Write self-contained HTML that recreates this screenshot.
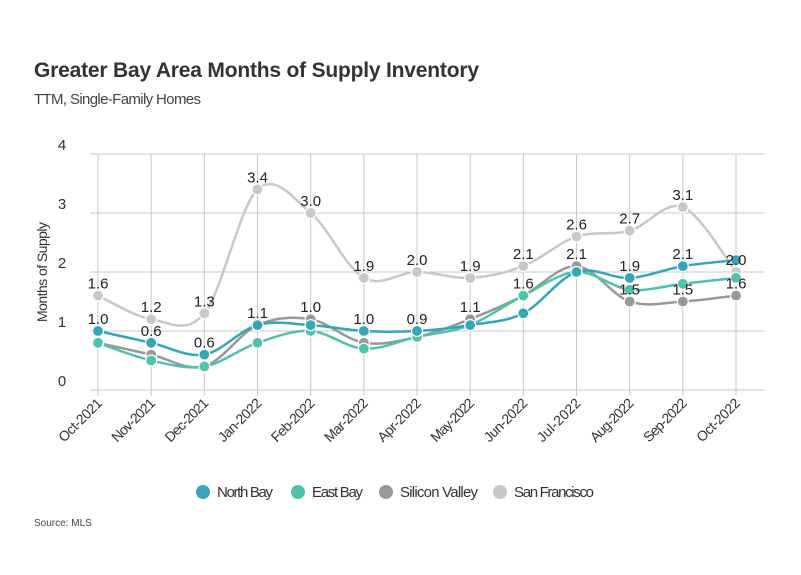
<!DOCTYPE html>
<html><head><meta charset="utf-8"><style>
body{margin:0;background:#fff;font-family:"Liberation Sans",sans-serif;}
#wrap{position:relative;width:801px;height:575px;overflow:hidden;}
</style></head><body>
<div id="wrap">
<svg id="svg" width="801" height="575" xmlns="http://www.w3.org/2000/svg">
<text x="34" y="77" font-size="21" font-weight="bold" fill="#333" textLength="445">Greater Bay Area Months of Supply Inventory</text>
<text x="34" y="104" font-size="15" fill="#444" textLength="167">TTM, Single-Family Homes</text>
<text x="34" y="526" font-size="10" fill="#444">Source:  MLS</text>
<text transform="translate(47,272) rotate(-90)" text-anchor="middle" font-size="14" fill="#333" textLength="100">Months of Supply</text>
<g id="grid"></g><g id="series"></g><g id="labels"></g><g id="legend"></g>
</svg>
</div>
<script>
const categories=["Oct-2021","Nov-2021","Dec-2021","Jan-2022","Feb-2022","Mar-2022","Apr-2022","May-2022","Jun-2022","Jul-2022","Aug-2022","Sep-2022","Oct-2022"];
const yTicks=[0,1,2,3,4];
const northBay=[1.0,0.8,0.6,1.1,1.1,1.0,1.0,1.1,1.3,2.0,1.9,2.1,2.2];
const eastBay=[0.8,0.5,0.4,0.8,1.0,0.7,0.9,1.1,1.6,2.0,1.7,1.8,1.9];
const siliconValley=[0.8,0.6,0.4,1.1,1.2,0.8,0.9,1.2,1.6,2.1,1.5,1.5,1.6];
const sanFrancisco=[1.6,1.2,1.3,3.4,3.0,1.9,2.0,1.9,2.1,2.6,2.7,3.1,2.0];
const lowerLabels=["1.0","0.6","0.6","1.1","1.0","1.0","0.9","1.1","1.6","2.1","1.9","2.1",null];
const extraLabels=[null,null,null,null,null,null,null,null,null,null,"1.5","1.5","1.6"];
const seriesNames=["North Bay","East Bay","Silicon Valley","San Francisco"];
const NS="http://www.w3.org/2000/svg";
const x0=98,x1=736,y0=390,yUnit=59;
const X=i=>x0+i*(x1-x0)/(categories.length-1);
const Y=v=>y0-v*yUnit;
function mk(tag,attrs,parent){const e=document.createElementNS(NS,tag);for(const k in attrs)e.setAttribute(k,attrs[k]);parent.appendChild(e);return e;}
const grid=document.getElementById('grid');
yTicks.forEach(t=>{
 const l=mk('line',{x1:90,x2:765,y1:Y(t),y2:Y(t),stroke:'#c8c8c8','stroke-width':1},grid);
 
 
 const tx=mk('text',{x:62,y:Y(t)-4,'font-size':15,fill:'#333','text-anchor':'middle'},grid);
 tx.textContent=t;
 
 
});
categories.forEach((c,i)=>{
 const l=mk('line',{x1:X(i),x2:X(i),y1:Y(4),y2:y0+6,stroke:'#c8c8c8','stroke-width':1},grid);
 
 
 const tx=mk('text',{transform:`translate(${X(i)+5},${y0+14}) rotate(-45)`,'font-size':14,fill:'#333','text-anchor':'end',textLength:55},grid);
 tx.textContent=c;
 
 
});
function smooth(vals){
 const p=vals.map((v,i)=>[X(i),Y(v)]);let d=`M${p[0][0]},${p[0][1]}`;
 for(let i=0;i<p.length-1;i++){const a=p[i-1]||p[i],b=p[i],c=p[i+1],e=p[i+2]||c;
  const c1=[b[0]+(c[0]-a[0])/6,b[1]+(c[1]-a[1])/6],c2=[c[0]-(e[0]-b[0])/6,c[1]-(e[1]-b[1])/6];
  d+=` C${c1[0]},${c1[1]} ${c2[0]},${c2[1]} ${c[0]},${c[1]}`;}
 return d;}
const sg=document.getElementById('series');
const order=[[sanFrancisco,'#c8c8c8','san-francisco'],[siliconValley,'#999999','silicon-valley'],[eastBay,'#4fc1ad','east-bay'],[northBay,'#36a5b5','north-bay']];
order.forEach(([vals,col,nm])=>{
 const p=mk('path',{d:smooth(vals),fill:'none',stroke:col,'stroke-width':2.5},sg);
 
 
 vals.forEach((v,i)=>{const c=mk('circle',{cx:X(i),cy:Y(v),r:5.5,fill:col,stroke:'#fff','stroke-width':1.2},sg);
  
  });
});
const lg=document.getElementById('labels');
function lab(txt,x,y){const t=mk('text',{x:x,y:y,'font-size':15,fill:'#222','text-anchor':'middle'},lg);t.textContent=txt;
 
 }
sanFrancisco.forEach((v,i)=>lab(v.toFixed(1),X(i),Y(v)-7));
lowerLabels.forEach((s,i)=>{if(s)lab(s,X(i),Y(Math.max(northBay[i],siliconValley[i]))-7);});
extraLabels.forEach((s,i)=>{if(s)lab(s,X(i),Y(siliconValley[i])-7);});
const leg=document.getElementById('legend');
const legCols=['#36a5b5','#4fc1ad','#999999','#c8c8c8'];
const legX=[203,298,386,500];
const legW=[56,51,78,80];
seriesNames.forEach((n,i)=>{
 const g=mk('g',{},leg);
 
 
 mk('circle',{cx:legX[i],cy:492,r:7,fill:legCols[i]},g);
 const t=mk('text',{x:legX[i]+14,y:497,'font-size':15,fill:'#333',textLength:legW[i]},g);t.textContent=n;
});
</script>
</body></html>
